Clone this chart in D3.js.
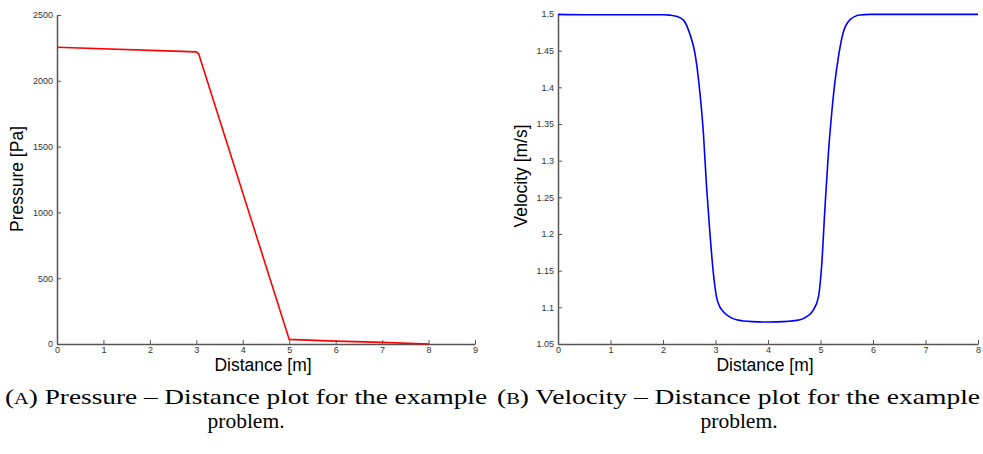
<!DOCTYPE html>
<html>
<head>
<meta charset="utf-8">
<script src="https://cdn.jsdelivr.net/npm/d3@7"></script>
<style>
  body { margin: 0; background: #fff; }
  .tick text { font-family: "Liberation Sans", Arial, sans-serif; font-size: 9px; fill: #333; }
  .domain, .tick line { stroke: #555; }
</style>
</head>
<body>
<div id="chart"></div>
<script>
// Pressure vs distance
const pressureX = [0, 3, 3.05, 5, 6, 7, 8];
const pressureY = [2255, 2220, 2205, 35, 22, 12, 0];
const pressureXTicks = [0, 1, 2, 3, 4, 5, 6, 7, 8, 9];
const pressureYTicks = [0, 500, 1000, 1500, 2000, 2500];

// Velocity vs distance
const velocityX = [0, 0.5, 1, 1.5, 2, 2.13, 2.25, 2.39, 2.51, 2.61, 2.7, 2.77, 2.83, 2.895, 2.96, 3.02, 3.08, 3.15, 3.27, 3.4, 3.7, 4, 4.3, 4.61, 4.75, 4.86, 4.96, 5.02, 5.086, 5.15, 5.21, 5.276, 5.34, 5.43, 5.56, 5.75, 5.94, 6.5, 7, 7.5, 8];
const velocityY = [1.4995, 1.499, 1.499, 1.499, 1.499, 1.4985, 1.497, 1.4916, 1.473, 1.446, 1.395, 1.337, 1.264, 1.2, 1.146, 1.114, 1.101, 1.094, 1.087, 1.083, 1.0805, 1.08, 1.0805, 1.083, 1.088, 1.096, 1.114, 1.155, 1.237, 1.31, 1.362, 1.408, 1.441, 1.474, 1.492, 1.4986, 1.4995, 1.4995, 1.4995, 1.4995, 1.4995];
const velocityXTicks = [0, 1, 2, 3, 4, 5, 6, 7, 8];
const velocityYTicks = [1.05, 1.1, 1.15, 1.2, 1.25, 1.3, 1.35, 1.4, 1.45, 1.5];

const width = 983, height = 454;
const svg = d3.select("#chart").append("svg")
    .attr("width", width)
    .attr("height", height);

function drawPanel(opts) {
    const x = d3.scaleLinear().domain(opts.xDomain).range(opts.xRange);
    const y = d3.scaleLinear().domain(opts.yDomain).range([344, opts.yTop]);

    const g = svg.append("g");

    g.append("g")
        .attr("transform", "translate(0,344)")
        .call(d3.axisBottom(x).tickValues(opts.xTicks).tickSizeInner(-4).tickSizeOuter(0).tickPadding(3))
        .call(a => a.select(".domain").attr("stroke-width", 1.5));

    g.append("g")
        .attr("transform", `translate(${opts.xRange[0]},0)`)
        .call(d3.axisLeft(y).tickValues(opts.yTicks).tickFormat(opts.yFormat).tickSizeInner(-4).tickSizeOuter(0).tickPadding(4))
        .call(a => a.select(".domain").attr("stroke-width", 1.5));

    const pts = opts.xs.map((d, i) => [d, opts.ys[i]]);
    g.append("path")
        .datum(pts)
        .attr("fill", "none")
        .attr("stroke", opts.color)
        .attr("stroke-width", 1.6)
        .attr("d", d3.line().x(d => x(d[0])).y(d => y(d[1])).curve(opts.curve));

    // axis titles
    g.append("text")
        .attr("x", (opts.xRange[0] + opts.xRange[1]) / 2 - 3)
        .attr("y", 371)
        .attr("text-anchor", "middle")
        .attr("font-family", "Liberation Sans, Arial, sans-serif")
        .attr("font-size", 17.5)
        .text("Distance [m]");

    g.append("text")
        .attr("transform", `translate(${opts.yLabelX},${opts.yLabelY}) rotate(-90)`)
        .attr("text-anchor", "middle")
        .attr("font-family", "Liberation Sans, Arial, sans-serif")
        .attr("font-size", 17.5)
        .text(opts.yLabel);
}

drawPanel({
    xDomain: [0, 9], xRange: [57, 475], yDomain: [0, 2500], yTop: 15,
    xTicks: pressureXTicks, yTicks: pressureYTicks, yFormat: d3.format("d"),
    xs: pressureX, ys: pressureY, color: "#ff0000", curve: d3.curveLinear,
    yLabel: "Pressure [Pa]", yLabelX: 23, yLabelY: 179
});

drawPanel({
    xDomain: [0, 8], xRange: [558, 978], yDomain: [1.05, 1.5], yTop: 14,
    xTicks: velocityXTicks, yTicks: velocityYTicks, yFormat: d => String(+d.toFixed(2)),
    xs: velocityX, ys: velocityY, color: "#0000ff", curve: d3.curveMonotoneX,
    yLabel: "Velocity [m/s]", yLabelX: 527, yLabelY: 176
});

// captions
const captions = [
    { cx: 246, tag: "A", text: ") Pressure – Distance plot for the example", left: 5, right: 487 },
    { cx: 739, tag: "B", text: ") Velocity – Distance plot for the example", left: 497, right: 980 }
];
captions.forEach(c => {
    const t = svg.append("text")
        .attr("x", c.left)
        .attr("y", 404)
        .attr("font-family", "Liberation Serif, serif")
        .attr("font-size", 21.5)
        .attr("textLength", c.right - c.left)
        .attr("lengthAdjust", "spacingAndGlyphs");
    t.append("tspan").text("(");
    t.append("tspan").attr("font-size", 16).text(c.tag);
    t.append("tspan").text(c.text);
    svg.append("text")
        .attr("x", c.cx)
        .attr("y", 428)
        .attr("text-anchor", "middle")
        .attr("font-family", "Liberation Serif, serif")
        .attr("font-size", 21.5)
        .text("problem.");
});
</script>
</body>
</html>
